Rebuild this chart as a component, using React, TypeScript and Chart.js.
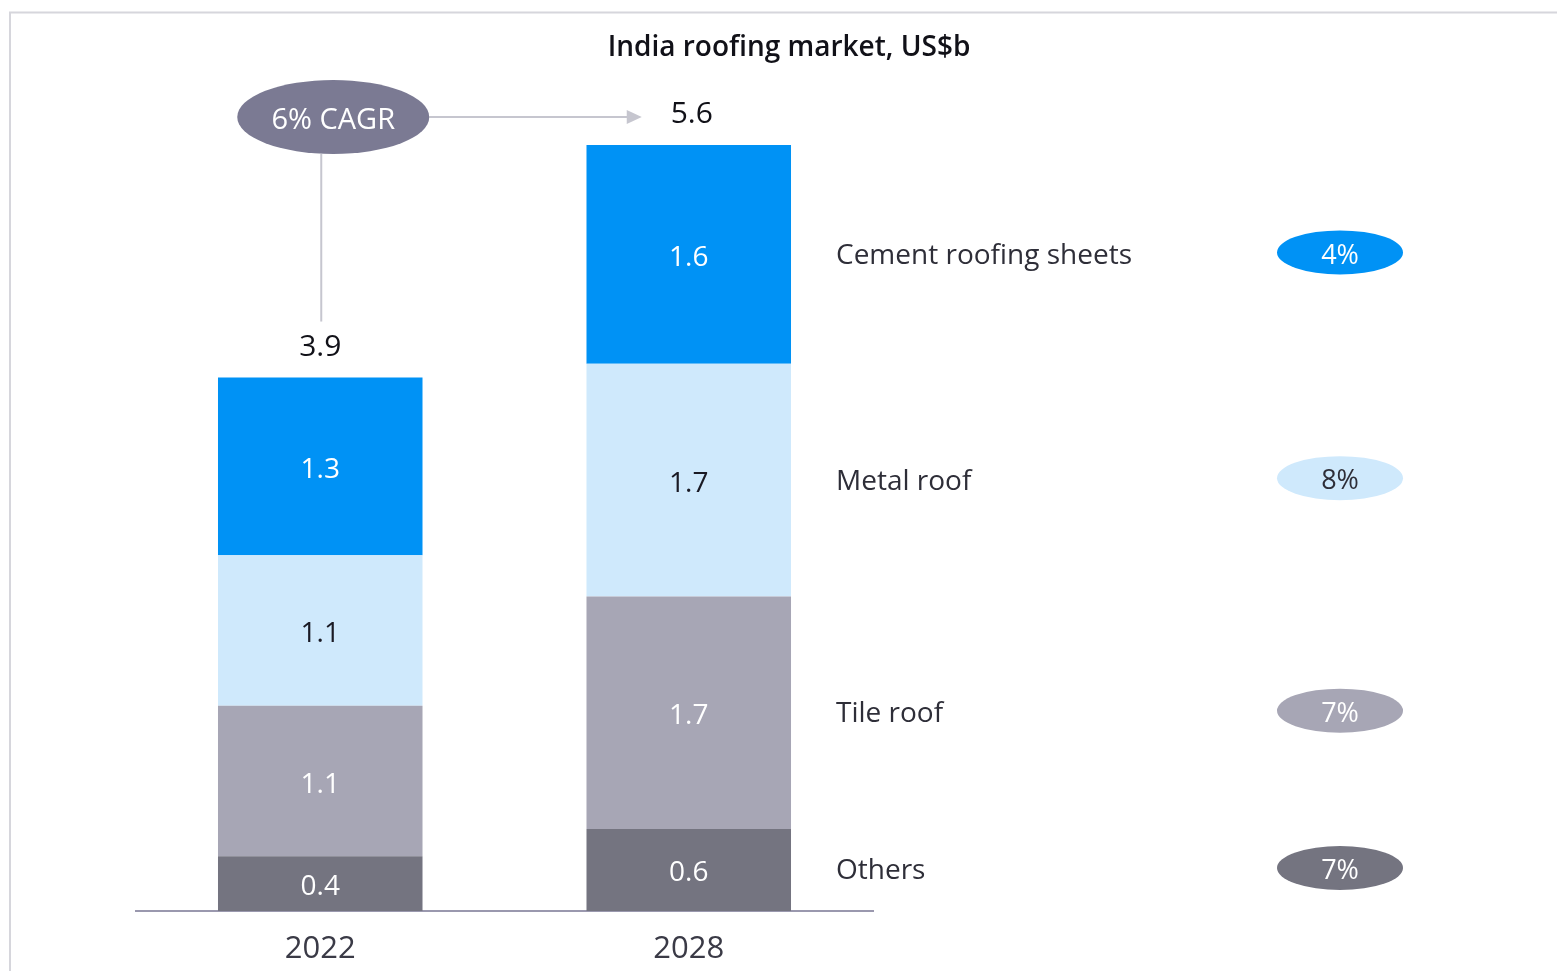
import React, { useEffect, useRef } from "react";
import { Chart, registerables } from "chart.js";

Chart.register(...registerables);

// ---------- data ----------
const title = "India roofing market, US$b";
const categories = ["2022", "2028"];
const seriesNames = ["Others", "Tile roof", "Metal roof", "Cement roofing sheets"];
const others = [0.4, 0.6];
const tileRoof = [1.1, 1.7];
const metalRoof = [1.1, 1.7];
const cementSheets = [1.3, 1.6];
const seriesCagr = ["7%", "7%", "8%", "4%"];
const totalCagrLabel = "6% CAGR";

// ---------- styles ----------
const seriesColors = ["#747480", "#A7A6B5", "#CFE9FC", "#0092F5"];
const labelColors = ["#FFFFFF", "#FFFFFF", "#1A1A24", "#FFFFFF"];
const pillTextColors = ["#FFFFFF", "#FFFFFF", "#2E2E38", "#FFFFFF"];
const FONT = "'Open Sans', 'Noto Sans', sans-serif";
const TY = 3.5; // optical correction for middle baseline

const seriesValues = [others, tileRoof, metalRoof, cementSheets];
const totals = categories.map((_, j) =>
  seriesValues.reduce((s, arr) => s + arr[j], 0)
);

const annotationPlugin = {
  id: "annotations",
  beforeDraw(chart: any) {
    const ctx = chart.ctx;
    ctx.save();
    ctx.strokeStyle = "#D6D6DC";
    ctx.lineWidth = 2;
    ctx.beginPath();
    ctx.moveTo(10, chart.height);
    ctx.lineTo(10, 12.5);
    ctx.lineTo(chart.width, 12.5);
    ctx.stroke();
    ctx.restore();
  },
  afterDraw(chart: any) {
    const ctx = chart.ctx;
    const yScale = chart.scales.y;
    const text = (s: string, x: number, y: number) => ctx.fillText(s, x, y + TY);
    ctx.save();
    ctx.textAlign = "center";
    ctx.textBaseline = "middle";

    // title
    ctx.fillStyle = "#111118";
    ctx.font = `600 28px ${FONT}`;
    text(title, 789, 45);

    // segment labels
    chart.data.datasets.forEach((ds: any, i: number) => {
      const meta = chart.getDatasetMeta(i);
      meta.data.forEach((bar: any, j: number) => {
        const p = bar.getProps(["x", "y", "base"], true);
        ctx.fillStyle = labelColors[i];
        ctx.font = `28px ${FONT}`;
        text(ds.data[j].toFixed(1), p.x, (p.y + p.base) / 2);
      });
    });

    // totals
    const firstMeta = chart.getDatasetMeta(0);
    const totalPos: { x: number; y: number; top: number }[] = [];
    totals.forEach((t, j) => {
      const bar = firstMeta.data[j];
      const x = bar.x;
      const top = yScale.getPixelForValue(t);
      const y = top - 34;
      totalPos.push({ x, y, top });
      ctx.fillStyle = "#111118";
      ctx.font = `500 30px ${FONT}`;
      text(t.toFixed(1), x + (j === 0 ? 0 : 3), y);
    });

    // legend labels and CAGR pills beside last bar
    const last = categories.length - 1;
    const lastBar = chart.getDatasetMeta(0).data[last];
    const barRight = lastBar.x + lastBar.width / 2;
    const labelX = barRight + 45;
    const pillX = labelX + 504;
    seriesNames.forEach((name, i) => {
      const bar = chart.getDatasetMeta(i).data[last];
      const p = bar.getProps(["y", "base"], true);
      const cy = (p.y + p.base) / 2 - 2;
      ctx.fillStyle = "#2E2E38";
      ctx.font = `28px ${FONT}`;
      ctx.textAlign = "left";
      text(name, labelX, cy);
      ctx.beginPath();
      ctx.ellipse(pillX, cy, 63, 22, 0, 0, Math.PI * 2);
      ctx.fillStyle = seriesColors[i];
      ctx.fill();
      ctx.textAlign = "center";
      ctx.fillStyle = pillTextColors[i];
      ctx.font = `27px ${FONT}`;
      text(seriesCagr[i], pillX, cy);
    });

    // CAGR annotation
    const a = totalPos[0];
    const b = totalPos[totalPos.length - 1];
    const ex = a.x + 13;
    const ey = b.top - 28;
    const rx = 96;
    const ry = 37;
    ctx.strokeStyle = "#C6C6CF";
    ctx.fillStyle = "#C6C6CF";
    ctx.lineWidth = 2;
    ctx.beginPath();
    ctx.moveTo(a.x + 1, ey + ry);
    ctx.lineTo(a.x + 1, a.y - 22);
    ctx.stroke();
    const tipX = b.x - 47;
    ctx.beginPath();
    ctx.moveTo(ex + rx, ey);
    ctx.lineTo(tipX - 12, ey);
    ctx.stroke();
    ctx.beginPath();
    ctx.moveTo(tipX, ey);
    ctx.lineTo(tipX - 15, ey - 7);
    ctx.lineTo(tipX - 15, ey + 7);
    ctx.closePath();
    ctx.fill();
    ctx.beginPath();
    ctx.ellipse(ex, ey, rx, ry, 0, 0, Math.PI * 2);
    ctx.fillStyle = "#7B7A93";
    ctx.fill();
    ctx.fillStyle = "#FFFFFF";
    ctx.font = `29px ${FONT}`;
    text(totalCagrLabel, ex, ey);

    ctx.restore();
  },
};

export default function App() {
  const ref = useRef<HTMLCanvasElement>(null);
  useEffect(() => {
    if (!ref.current) return;
    const chart = new Chart(ref.current, {
      type: "bar",
      data: {
        labels: categories,
        datasets: seriesNames.map((name, i) => ({
          label: name,
          data: seriesValues[i],
          backgroundColor: seriesColors[i],
          borderWidth: 0,
          barPercentage: 0.555,
          categoryPercentage: 1,
        })),
      },
      options: {
        responsive: false,
        animation: false,
        devicePixelRatio: 1,
        layout: { padding: { left: 136, right: 684, top: 145, bottom: 0 } },
        plugins: {
          legend: { display: false },
          tooltip: { enabled: false },
          title: { display: false },
        },
        scales: {
          x: {
            stacked: true,
            grid: { display: false, drawTicks: false },
            border: { display: true, color: "#9A98AE", width: 2 },
            ticks: {
              color: "#3A3A46",
              font: { family: FONT, size: 31 },
              padding: 20,
            },
            afterFit: (s: any) => {
              s.height = 60;
            },
          },
          y: {
            stacked: true,
            display: false,
            min: 0,
            max: Math.max(...totals),
          },
        },
      },
      plugins: [annotationPlugin],
    });
    return () => chart.destroy();
  }, []);
  return (
    <div style={{ position: "absolute", left: 0, top: 0, width: 1557, height: 971, background: "#fff" }}>
      <canvas ref={ref} width={1557} height={971} style={{ display: "block" }} />
    </div>
  );
}
